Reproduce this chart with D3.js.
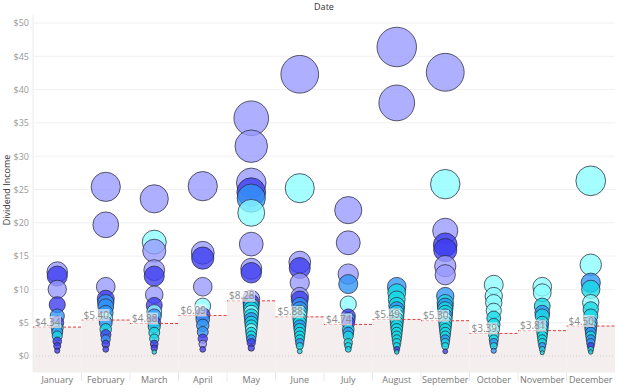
<!DOCTYPE html>
<html><head><meta charset="utf-8">
<script src="https://cdn.jsdelivr.net/npm/d3@7"></script>
<style>body{margin:0;background:#fff;font-family:"Open Sans",Lato,sans-serif}</style>
</head><body><svg id="c" width="640" height="392"></svg>
<script>
const months = ["January","February","March","April","May","June","July","August","September","October","November","December"];
const averages = [4.34,5.40,4.88,6.09,8.28,5.88,4.74,5.49,5.30,3.39,3.81,4.50];
const yTicks = [0,5,10,15,20,25,30,35,40,45,50];
const groupColors = ["#9898ff","#3b3bef","#2f95f7","#14d8e6","#8afcff"];
// each bubble: [dividend income, colour group]
const jan = [[12.6,0],[12.0,1],[10.0,0],[7.7,1],[6.0,2],[5.0,1],[4.2,3],[3.6,2],[3.0,3],[2.2,1],[1.5,1],[0.8,1]];
const feb = [[25.4,0],[19.7,0],[10.4,0],[8.6,1],[8.0,2],[7.4,2],[6.5,2],[5.6,4],[5.0,2],[4.0,3],[3.2,1],[2.5,2],[1.8,1],[1.0,1]];
const mar = [[23.6,0],[17.1,4],[15.8,0],[12.9,0],[12.0,1],[9.2,0],[7.6,1],[6.6,4],[6.0,2],[5.0,1],[4.4,3],[3.5,3],[2.6,3],[1.8,1],[1.2,1],[0.6,3]];
const apr = [[25.5,0],[15.5,0],[14.7,1],[10.4,0],[7.5,4],[6.2,1],[5.5,2],[4.6,2],[3.6,2],[2.6,1],[1.8,0],[1.0,1]];
const may = [[35.7,0],[31.5,0],[26.0,0],[24.6,1],[23.7,2],[21.5,4],[16.8,0],[13.1,0],[12.5,1],[8.6,0],[8.0,1],[7.5,3],[7.0,3],[6.5,4],[6.0,3],[5.5,2],[5.0,3],[4.5,3],[4.0,4],[3.5,3],[3.0,3],[2.5,2],[2.0,1],[1.2,1]];
const jun = [[42.3,0],[25.2,4],[14.1,0],[13.2,1],[11.0,0],[9.0,0],[8.5,1],[7.6,2],[7.0,2],[6.5,3],[6.0,4],[5.5,3],[5.0,3],[4.5,2],[4.0,3],[3.5,3],[3.0,3],[2.5,3],[2.0,2],[1.5,3],[0.7,3]];
const jul = [[21.9,0],[17.0,0],[12.3,0],[10.8,2],[7.8,4],[6.0,1],[5.5,2],[5.0,1],[4.0,3],[3.5,2],[3.0,3],[2.0,3],[1.5,3],[1.0,3]];
const aug = [[46.4,0],[38.0,0],[10.4,2],[9.5,3],[8.5,3],[7.6,3],[7.0,2],[6.5,3],[6.0,4],[5.5,3],[5.0,3],[4.5,3],[4.0,3],[3.5,3],[3.0,3],[2.5,3],[2.0,3],[1.5,3],[1.0,1],[0.6,3]];
const sep = [[42.6,0],[25.8,4],[18.8,0],[16.7,1],[15.9,1],[13.5,0],[12.2,0],[9.0,2],[8.0,3],[7.5,2],[7.0,3],[6.5,3],[6.0,2],[5.5,4],[5.0,3],[4.5,3],[4.0,3],[3.5,3],[3.0,3],[2.5,2],[2.0,3],[1.5,3],[0.7,1]];
const oct = [[10.7,4],[9.0,4],[8.0,4],[6.8,4],[5.7,3],[4.7,3],[4.0,4],[3.2,3],[2.5,3],[2.0,2],[1.5,3],[0.8,2]];
const nov = [[10.4,4],[9.5,4],[7.5,3],[6.5,2],[6.0,3],[5.0,3],[4.5,2],[4.0,3],[3.5,3],[3.0,3],[2.5,3],[2.0,3],[1.5,2],[1.0,3],[0.5,3]];
const dec = [[26.3,4],[13.7,4],[11.0,2],[10.0,3],[8.0,4],[7.0,3],[6.0,3],[5.0,2],[4.5,3],[4.0,2],[3.5,2],[3.0,3],[2.5,2],[2.0,2],[1.5,1],[1.0,3],[0.6,3]];
const monthData = [jan,feb,mar,apr,may,jun,jul,aug,sep,oct,nov,dec];

const svg = d3.select("#c");
const pLeft = 33, pRight = 615, pTop = 15, pBottom = 372;
const x = d3.scaleBand().domain(months).range([pLeft,pRight]).padding(0);
const y = d3.scaleLinear().domain([0,50]).range([356,23]);
const r = d3.scaleSqrt().domain([0,50]).range([0,20.5]);

// gridlines
svg.append("g").selectAll("line").data(yTicks.filter(d=>d>0)).join("line")
  .attr("x1",pLeft).attr("x2",pRight).attr("y1",d=>y(d)).attr("y2",d=>y(d))
  .attr("stroke","#f1f1f1").attr("stroke-width",1);

// shaded areas below average
svg.append("g").selectAll("rect").data(months).join("rect")
  .attr("x",d=>x(d)).attr("width",x.bandwidth())
  .attr("y",(d,i)=>y(averages[i])).attr("height",(d,i)=>pBottom-y(averages[i]))
  .attr("fill","#f4eeee");

// zero line
svg.append("line").attr("x1",pLeft).attr("x2",pRight).attr("y1",y(0)).attr("y2",y(0))
  .attr("stroke","#cfcfcf").attr("stroke-dasharray","1,2");

// axis line
svg.append("line").attr("x1",pLeft).attr("x2",pLeft).attr("y1",pTop).attr("y2",pBottom)
  .attr("stroke","#ececec");

// y axis
const ya = svg.append("g").attr("transform",`translate(${pLeft},0)`)
  .call(d3.axisLeft(y).tickValues(yTicks).tickFormat(d=>"$"+d).tickSize(0).tickPadding(4));
ya.select(".domain").remove();
ya.selectAll("text").attr("fill","#999").style("font-size","9px").style("font-family","'Open Sans',sans-serif");

// x axis
const xa = svg.append("g").attr("transform",`translate(0,${pBottom})`)
  .call(d3.axisBottom(x).tickSize(0).tickPadding(5));
xa.select(".domain").remove();
xa.selectAll("text").attr("fill","#777").style("font-size","9px").style("font-family","'Open Sans',sans-serif");
svg.append("g").selectAll("line").data(months.slice(1)).join("line")
  .attr("x1",d=>x(d)).attr("x2",d=>x(d)).attr("y1",pBottom).attr("y2",pBottom+9)
  .attr("stroke","#e8e8e8");
svg.append("line").attr("x1",pLeft).attr("x2",pRight).attr("y1",pBottom).attr("y2",pBottom).attr("stroke","#f0f0f0");

// bubbles
const bubbles = [];
monthData.forEach((arr,i)=>arr.forEach(b=>bubbles.push({m:months[i],v:b[0],g:b[1]})));
bubbles.sort((a,b)=>b.v-a.v);
svg.append("g").selectAll("circle").data(bubbles).join("circle")
  .attr("cx",d=>x(d.m)+x.bandwidth()/2).attr("cy",d=>y(d.v)).attr("r",d=>r(d.v))
  .attr("fill",d=>groupColors[d.g]).attr("fill-opacity",0.78)
  .attr("stroke","#2a2a3a").attr("stroke-opacity",0.75).attr("stroke-width",1);

// reference lines
const ref = svg.append("g");
ref.selectAll("line").data(months).join("line")
  .attr("x1",d=>x(d)).attr("x2",d=>x(d)+x.bandwidth())
  .attr("y1",(d,i)=>y(averages[i])).attr("y2",(d,i)=>y(averages[i]))
  .attr("stroke","#e8383d").attr("stroke-width",1).attr("stroke-dasharray","3,2");
const labs = ref.selectAll("g.lab").data(months).join("g").attr("class","lab")
  .attr("transform",(d,i)=>`translate(${x(d)+1},${y(averages[i])-5})`);
labs.append("rect").attr("x",0).attr("y",-6).attr("width",27).attr("height",12)
  .attr("fill","#fff").attr("fill-opacity",0.6);
labs.append("text").attr("x",1).attr("y",3.5).text((d,i)=>"$"+averages[i].toFixed(2))
  .attr("fill","#8a8a8a").style("font-size","10px").style("font-family","'Open Sans',sans-serif");

// titles
svg.append("text").attr("x",324).attr("y",10).attr("text-anchor","middle").text("Date")
  .attr("fill","#333").style("font-size","9px").style("font-family","'Open Sans',sans-serif");
svg.append("text").attr("transform","translate(10,190) rotate(-90)").attr("text-anchor","middle")
  .text("Dividend Income").attr("fill","#333").style("font-size","9px").style("font-family","'Open Sans',sans-serif");
</script></body></html>
